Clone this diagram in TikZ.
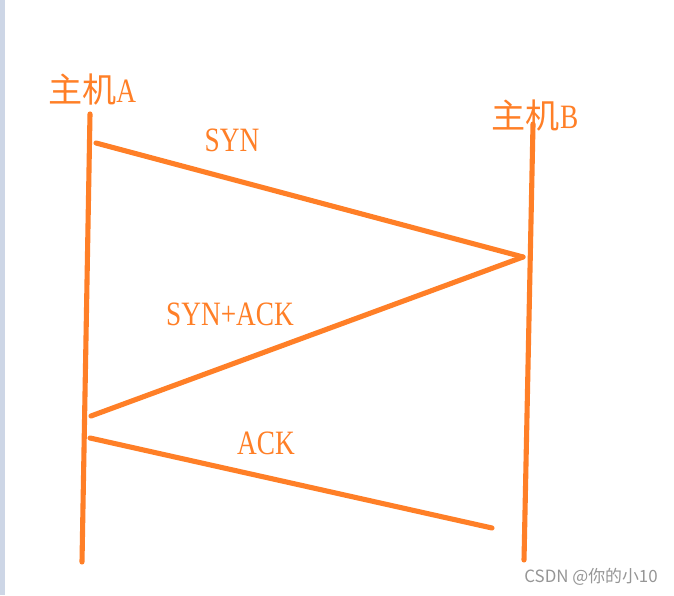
\documentclass[tikz,border=0pt]{standalone}
\usepackage{fontspec}
\setmainfont[FakeStretch=0.8]{Liberation Serif}
\newfontfamily\cjk{Noto Sans CJK SC}
\newfontfamily\wmfont{Noto Sans CJK SC}
\definecolor{paintorange}{RGB}{255,127,39}
\definecolor{stripblue}{RGB}{205,214,230}
\definecolor{wmgrey}{RGB}{150,150,150}
\tikzset{
  wire/.style={paintorange, line width=1.45pt, line cap=round},
  lbl/.style={text=paintorange, inner sep=0pt, font=\fontsize{9.7}{11}\selectfont},
}
\begin{document}
\begin{tikzpicture}[x=0.01cm, y=-0.01cm]
    \useasboundingbox (0,0) rectangle (674,595);
    \fill[white] (0,0) rectangle (674,595);
    \fill[stripblue] (0,0) rectangle (5,595);

    % hosts
    \node[lbl] (hostA) at (92,90) {{\cjk 主机}A};
    \node[lbl] (hostB) at (535,116) {{\cjk 主机}B};

    % time lines
    \coordinate (Atop) at (90,114);
    \coordinate (Abot) at (82,562);
    \coordinate (Btop) at (533,124);
    \coordinate (Bbot) at (524,560);
    \draw[wire] (Atop) -- (Abot);
    \draw[wire] (Btop) -- (Bbot);

    % segments
    \coordinate (syn1) at (96,143);
    \coordinate (syn2) at (523,257);
    \coordinate (ack1) at (91,416);
    \coordinate (fin1) at (90,438);
    \coordinate (fin2) at (492,528);
    \draw[wire] (syn1) -- (syn2);
    \draw[wire] (syn2) -- (ack1);
    \draw[wire] (fin1) -- (fin2);

    \node[lbl] (syn) at (232,140) {SYN};
    \node[lbl] (synack) at (230,314) {SYN+ACK};
    \node[lbl] (ack) at (266,443) {ACK};

    \node[text=wmgrey, inner sep=0pt, font=\wmfont\fontsize{4.8}{6}\selectfont] (mark) at (591,577) {CSDN @你的小10};
\end{tikzpicture}
\end{document}
